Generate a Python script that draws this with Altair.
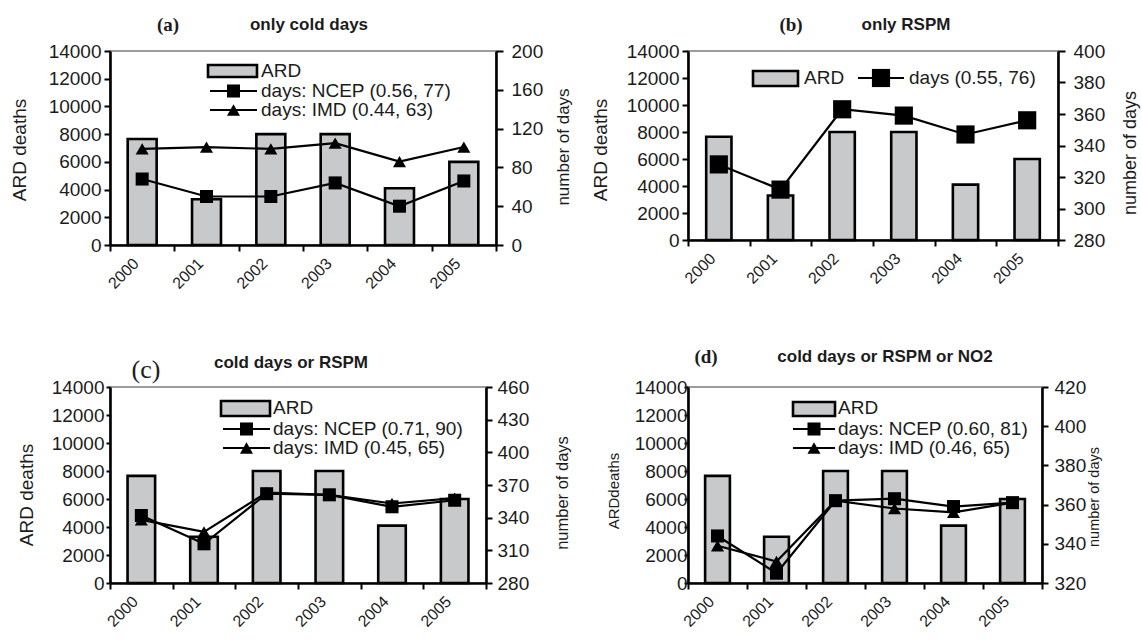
import altair as alt
import pandas as pd

# ---------------- data ----------------
YEARS = ["2000", "2001", "2002", "2003", "2004", "2005"]
ARD_DEATHS = [7650, 3300, 8000, 8000, 4100, 6000]

A_NCEP = [68, 50, 50, 64, 40, 66]
A_IMD = [99, 101, 99, 105, 86, 101]
B_DAYS = [328, 312, 363, 359, 347, 356]
C_NCEP = [342, 316, 362, 361, 350, 356]
C_IMD = [338, 327, 363, 361, 353, 358]
D_NCEP = [344, 325, 362, 363, 359, 361]
D_IMD = [339, 331, 362, 358, 356, 361]

ARD_TICKS = [0, 2000, 4000, 6000, 8000, 10000, 12000, 14000]
A_DAY_TICKS = [0, 40, 80, 120, 160, 200]
B_DAY_TICKS = [280, 300, 320, 340, 360, 380, 400]
C_DAY_TICKS = [280, 310, 340, 370, 400, 430, 460]
D_DAY_TICKS = [320, 340, 360, 380, 400, 420]

BAR_LABEL = "ARD"
A_SERIES = ["days: NCEP (0.56, 77)", "days: IMD (0.44, 63)"]
B_SERIES = ["days (0.55, 76)"]
C_SERIES = ["days: NCEP (0.71, 90)", "days: IMD (0.45, 65)"]
D_SERIES = ["days: NCEP (0.60, 81)", "days: IMD (0.46, 65)"]

PANEL_LETTERS = ["(a)", "(b)", "(c)", "(d)"]
PANEL_TITLES = ["only cold days", "only RSPM", "cold days or RSPM", "cold days or RSPM or NO2"]
LEFT_TITLES = ["ARD deaths", "ARD deaths", "ARD deaths", "ARDdeaths"]
RIGHT_TITLE = "number of days"

# ---------------- styles ----------------
INK = "#1c1c1c"
GRAY = "#c8c9ca"
SANS = "Liberation Sans"
SERIF = "Liberation Serif"
SHAPES = ["square", "triangle-up"]
LEG_FS = 19


def txt(label, x, y, size, font, weight="normal", angle=0, align="center"):
    return alt.Chart(pd.DataFrame({"t": [label]})).mark_text(
        font=font, fontSize=size, fontWeight=weight, angle=angle, align=align,
        baseline="middle", color=INK,
    ).encode(x=alt.value(x), y=alt.value(y), text="t:N")


def leg_bar(x0, x1, y0, y1):
    return alt.Chart(pd.DataFrame({"k": [0]})).mark_rect(
        fill=GRAY, stroke="black", strokeWidth=2.6
    ).encode(x=alt.value(x0), x2=alt.value(x1), y=alt.value(y0), y2=alt.value(y1))


def leg_line(x0, x1, y, shape, msize):
    rule = alt.Chart(pd.DataFrame({"k": [0]})).mark_rule(
        color="black", strokeWidth=2.2
    ).encode(x=alt.value(x0), x2=alt.value(x1), y=alt.value(y))
    pt = alt.Chart(pd.DataFrame({"k": [0]})).mark_point(
        shape=shape, filled=True, color="black", opacity=1, size=msize
    ).encode(x=alt.value((x0 + x1) / 2), y=alt.value(y))
    return [rule, pt]


def panel(idx, series, series_vals, day_dom, day_ticks, L):
    W, H = L["W"], L["H"]
    bars_df = pd.DataFrame({"year": YEARS, "ard": ARD_DEATHS})
    rows = []
    for k, (name, vals) in enumerate(zip(series, series_vals)):
        for y, v in zip(YEARS, vals):
            rows.append({"year": y, "series": name, "marker": SHAPES[k], "days": v})
    line_df = pd.DataFrame(rows)

    xenc = alt.X(
        "year:N",
        scale=alt.Scale(domain=YEARS, paddingInner=0, paddingOuter=0),
        axis=alt.Axis(
            title=None, labelAngle=-45, labelAlign="right", labelBaseline="top",
            labelFont=SANS, labelFontSize=16, labelColor=INK,
            labelOffset=-12, labelPadding=4, tickBand="extent", tickColor="black",
            tickWidth=2, tickSize=6, domainColor="black", domainWidth=2.5,
            labelOverlap=False, grid=False,
        ),
    )
    left_axis = alt.Axis(
        orient="left", values=ARD_TICKS, format="d", title=None,
        labelFont=SANS, labelFontSize=L["yfs"], labelColor=INK,
        tickColor="black", tickWidth=2, tickSize=L["ltick"], labelPadding=L["lpad"],
        domainColor="black", domainWidth=2.6, grid=False, labelOverlap=False,
    )
    right_axis = alt.Axis(
        orient="right", values=day_ticks, format="d", title=None,
        labelFont=SANS, labelFontSize=L["yfs"], labelColor=INK,
        tickColor="black", tickWidth=2, tickSize=L["rtick"], labelPadding=L["rpad"],
        domainColor="black", domainWidth=2.6, grid=False, labelOverlap=False,
    )

    bars = alt.Chart(bars_df).mark_bar(
        fill=GRAY, stroke="black", strokeWidth=2.6,
        width=alt.RelativeBandSize(L["band"]),
    ).encode(
        x=xenc,
        y=alt.Y("ard:Q", scale=alt.Scale(domain=[0, 14000], nice=False), axis=left_axis),
    )
    yday = alt.Y("days:Q", scale=alt.Scale(domain=day_dom, nice=False, zero=False), axis=right_axis)
    lines = alt.Chart(line_df).mark_line(color="black", strokeWidth=2.2).encode(
        x=xenc, y=yday, detail="series:N"
    )
    points = alt.Chart(line_df).mark_point(filled=True, color="black", opacity=1, size=L["msize"]).encode(
        x=xenc, y=yday,
        shape=alt.Shape("marker:N", scale=None, legend=None),
    )

    extras = [
        txt(PANEL_LETTERS[idx], L["lx"], L["ly"], L["lfs"], SERIF, L["lw"]),
        txt(PANEL_TITLES[idx], L["tx"], L["ty"], 17, SANS, "bold"),
        txt(LEFT_TITLES[idx], L["ylx"], L["yly"], L["ylfs"], SANS, angle=270),
        txt(RIGHT_TITLE, W + L["yrx"], L["yry"], L["yrfs"], SANS, angle=270),
    ]
    lg = L["leg"]
    extras.append(leg_bar(*lg["bar"]))
    extras.append(txt(BAR_LABEL, lg["bar_text"][0], lg["bar_text"][1], LEG_FS, SANS, align="left"))
    for k, name in enumerate(series):
        x0, x1, y = lg["lines"][k]
        extras += leg_line(x0, x1, y, SHAPES[k], L["msize"])
        extras.append(txt(name, lg["texts"][k], y, LEG_FS, SANS, align="left"))

    return alt.layer(bars, alt.layer(lines, points), *extras).resolve_scale(
        y="independent"
    ).properties(width=W, height=H)


BASE = dict(band=0.45, msize=170, yfs=19, ltick=6, lpad=3, rtick=7, rpad=8,
            lfs=19, lw="bold", ylfs=19, yrfs=17)

LA = dict(BASE, W=386, H=194, lx=58, ly=-26, tx=199, ty=-26,
          ylx=-90, yly=99, yrx=68, yry=96,
          leg=dict(bar=(98, 147, 14, 26), bar_text=(151, 20),
                   lines=[(100, 147, 40), (100, 147, 59)], texts=[151, 151]))
LB = dict(BASE, W=370, H=189, band=0.41, msize=330, lx=103, ly=-26, tx=218, ty=-26,
          ylx=-87, yly=99, yrx=73, yry=102, yrfs=18,
          leg=dict(bar=(65, 110, 20, 35), bar_text=(116, 27),
                   lines=[(170, 216, 27)], texts=[221]))
LC = dict(BASE, W=376, H=196, band=0.44, lx=36, ly=-17, lfs=26, lw="normal", tx=181, ty=-24,
          ylx=-83, yly=108, yrx=77, yry=106, yrfs=16.5, ltick=4, lpad=2, rtick=6, rpad=5,
          leg=dict(bar=(111, 160, 14, 29), bar_text=(163, 21),
                   lines=[(113, 160, 42), (113, 160, 61)], texts=[163, 163]))
LD = dict(BASE, W=354, H=196, band=0.42, lx=18, ly=-30, tx=197, ty=-30,
          ylx=-74, yly=104, yrx=53, yry=110, ylfs=15, yrfs=14.5, ltick=4, lpad=-3,
          rtick=6, rpad=6,
          leg=dict(bar=(105, 147, 15, 29), bar_text=(150, 21),
                   lines=[(105, 147, 42), (105, 147, 61)], texts=[150, 150]))

pa = panel(0, A_SERIES, [A_NCEP, A_IMD], [0, 200], A_DAY_TICKS, LA)
pb = panel(1, B_SERIES, [B_DAYS], [280, 400], B_DAY_TICKS, LB)
pc = panel(2, C_SERIES, [C_NCEP, C_IMD], [280, 460], C_DAY_TICKS, LC)
pd_ = panel(3, D_SERIES, [D_NCEP, D_IMD], [320, 420], D_DAY_TICKS, LD)

chart = alt.concat(
    pa, pb, pc, pd_, columns=2,
    spacing={"row": 142, "column": 192},
    bounds="flush",
).properties(
    padding={"left": 10, "top": 15, "right": 0, "bottom": 0},
    background="white",
).configure_view(stroke="#9c9c9c", strokeWidth=2)

chart.save("out.html", embed_options={"renderer": "svg", "actions": False})
